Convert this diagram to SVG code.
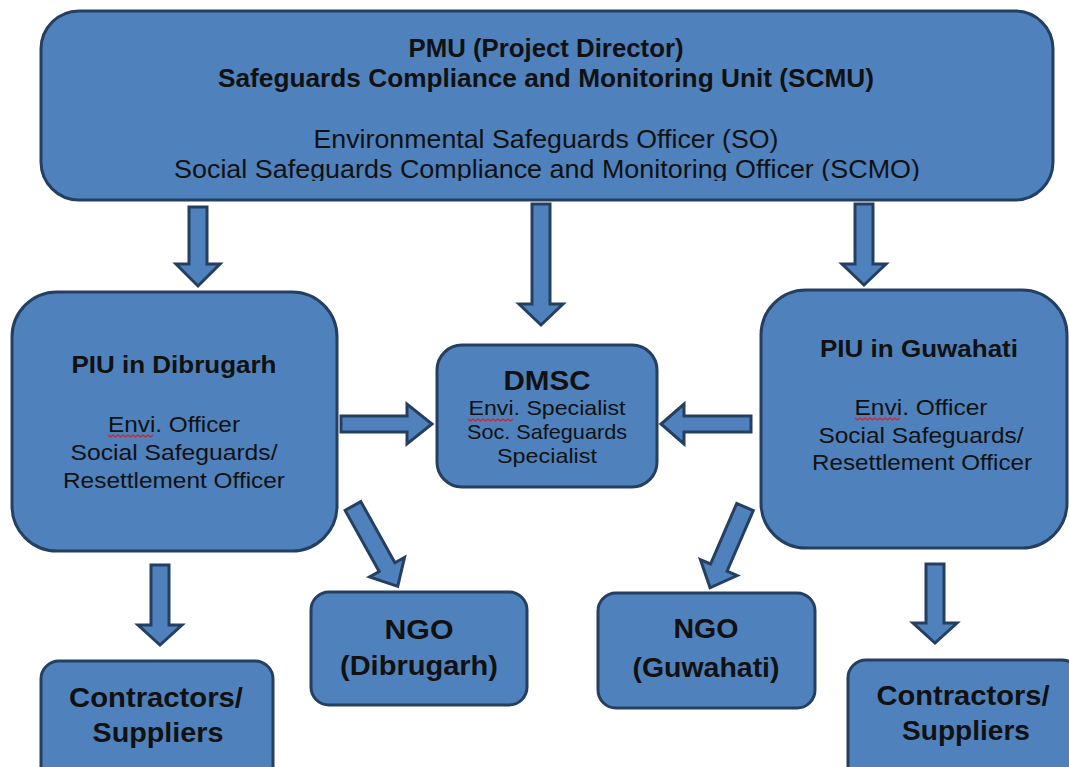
<svg xmlns="http://www.w3.org/2000/svg" width="1069" height="767" viewBox="0 0 1069 767">
<style>
.box{fill:#4f81bd;stroke:#253f61;stroke-width:3}
.arr{fill:#4f81bd;stroke:#253f61;stroke-width:3;stroke-linejoin:miter}
text{font-family:"Liberation Sans",Arial,sans-serif;fill:#111;text-anchor:middle}
.b{font-weight:bold}
.sq{fill:none;stroke:#e02020;stroke-width:1.2}
</style>
<defs>
<clipPath id="topclip"><rect x="0" y="0" width="1069" height="181"/></clipPath>
</defs>
<rect width="1069" height="767" fill="#fff"/>
<g id="connectors">
<polygon class="arr" points="189,207 207,207 207,264 220,264 198,286 176,264 189,264"/>
<polygon class="arr" points="532,204 550,204 550,304 563,304 541,325 519,304 532,304"/>
<polygon class="arr" points="855,204 873,204 873,264 886,264 864,285 842,264 855,264"/>
<polygon class="arr" points="341,416 407,416 407,404 432,424 407,444 407,432 341,432"/>
<polygon class="arr" points="751,416 684,416 684,404 661,424 684,444 684,432 751,432"/>
<polygon class="arr" points="151,565 169,565 169,625 182,625 160,645 138,625 151,625"/>
<polygon class="arr" points="926,564 944,564 944,623 957,623 935,643 913,623 926,623"/>
<polygon class="arr" transform="translate(353,506) rotate(60.9)" points="0,-9 70,-9 70,-20 92,0 70,20 70,9 0,9"/>
<polygon class="arr" transform="translate(745,507) rotate(113.4)" points="0,-9 66,-9 66,-20 88,0 66,20 66,9 0,9"/>
</g>
<g id="pmu">
<rect class="box" x="41" y="11" width="1012" height="189" rx="38"/>
<g clip-path="url(#topclip)">
<text class="b" x="546" y="57" font-size="25" textLength="275" lengthAdjust="spacingAndGlyphs">PMU (Project Director)</text>
<text class="b" x="546" y="87" font-size="25" textLength="656" lengthAdjust="spacingAndGlyphs">Safeguards Compliance and Monitoring Unit (SCMU)</text>
<text x="546" y="148" font-size="25" textLength="465" lengthAdjust="spacingAndGlyphs">Environmental Safeguards Officer (SO)</text>
<text x="547" y="178" font-size="25" textLength="746" lengthAdjust="spacingAndGlyphs">Social Safeguards Compliance and Monitoring Officer (SCMO)</text>
</g>
</g>
<g id="piu-dibrugarh">
<rect class="box" x="12" y="292" width="325" height="259" rx="45"/>
<text class="b" x="174" y="373" font-size="23" textLength="205" lengthAdjust="spacingAndGlyphs">PIU in Dibrugarh</text>
<text x="174" y="432" font-size="22" textLength="132" lengthAdjust="spacingAndGlyphs">Envi. Officer</text>
<text x="174" y="460" font-size="22" textLength="207" lengthAdjust="spacingAndGlyphs">Social Safeguards/</text>
<text x="174" y="488" font-size="22" textLength="222" lengthAdjust="spacingAndGlyphs">Resettlement Officer</text>
<path class="sq" d="M108,435 l2.5,2 2.5,-2 2.5,2 2.5,-2 2.5,2 2.5,-2 2.5,2 2.5,-2 2.5,2 2.5,-2 2.5,2 2.5,-2 2.5,2 2.5,-2 2.5,2 2.5,-2 2.5,2 2.5,-2"/>
</g>
<g id="dmsc">
<rect class="box" x="437" y="345" width="220" height="142" rx="25"/>
<text class="b" x="547" y="390" font-size="27" textLength="87" lengthAdjust="spacingAndGlyphs">DMSC</text>
<text x="547" y="415" font-size="21" textLength="157" lengthAdjust="spacingAndGlyphs">Envi. Specialist</text>
<text x="547" y="439" font-size="21" textLength="160" lengthAdjust="spacingAndGlyphs">Soc. Safeguards</text>
<text x="547" y="463" font-size="21" textLength="100" lengthAdjust="spacingAndGlyphs">Specialist</text>
<path class="sq" d="M468,419 l2.5,2 2.5,-2 2.5,2 2.5,-2 2.5,2 2.5,-2 2.5,2 2.5,-2 2.5,2 2.5,-2 2.5,2 2.5,-2 2.5,2 2.5,-2 2.5,2 2.5,-2 2.5,2 2.5,-2"/>
</g>
<g id="piu-guwahati">
<rect class="box" x="761" y="290" width="306" height="258" rx="45"/>
<text class="b" x="919" y="357" font-size="23" textLength="198" lengthAdjust="spacingAndGlyphs">PIU in Guwahati</text>
<text x="921" y="415" font-size="22" textLength="133" lengthAdjust="spacingAndGlyphs">Envi. Officer</text>
<text x="921" y="443" font-size="22" textLength="205" lengthAdjust="spacingAndGlyphs">Social Safeguards/</text>
<text x="922" y="470" font-size="22" textLength="220" lengthAdjust="spacingAndGlyphs">Resettlement Officer</text>
<path class="sq" d="M855,418 l2.5,2 2.5,-2 2.5,2 2.5,-2 2.5,2 2.5,-2 2.5,2 2.5,-2 2.5,2 2.5,-2 2.5,2 2.5,-2 2.5,2 2.5,-2 2.5,2 2.5,-2 2.5,2 2.5,-2"/>
</g>
<g id="ngo-dibrugarh">
<rect class="box" x="311" y="592" width="216" height="113" rx="18"/>
<text class="b" x="419" y="639" font-size="27" textLength="69" lengthAdjust="spacingAndGlyphs">NGO</text>
<text class="b" x="419" y="675" font-size="27" textLength="158" lengthAdjust="spacingAndGlyphs">(Dibrugarh)</text>
</g>
<g id="ngo-guwahati">
<rect class="box" x="598" y="593" width="217" height="115" rx="18"/>
<text class="b" x="706" y="638" font-size="27" textLength="65" lengthAdjust="spacingAndGlyphs">NGO</text>
<text class="b" x="706" y="677" font-size="27" textLength="147" lengthAdjust="spacingAndGlyphs">(Guwahati)</text>
</g>
<g id="contractors-dibrugarh">
<rect class="box" x="41" y="661" width="232" height="130" rx="18"/>
<text class="b" x="156" y="707" font-size="28" textLength="174" lengthAdjust="spacingAndGlyphs">Contractors/</text>
<text class="b" x="158" y="742" font-size="28" textLength="131" lengthAdjust="spacingAndGlyphs">Suppliers</text>
</g>
<g id="contractors-guwahati">
<rect class="box" x="848" y="660" width="232" height="130" rx="18"/>
<text class="b" x="963" y="705" font-size="28" textLength="173" lengthAdjust="spacingAndGlyphs">Contractors/</text>
<text class="b" x="966" y="740" font-size="28" textLength="128" lengthAdjust="spacingAndGlyphs">Suppliers</text>
</g>
</svg>
